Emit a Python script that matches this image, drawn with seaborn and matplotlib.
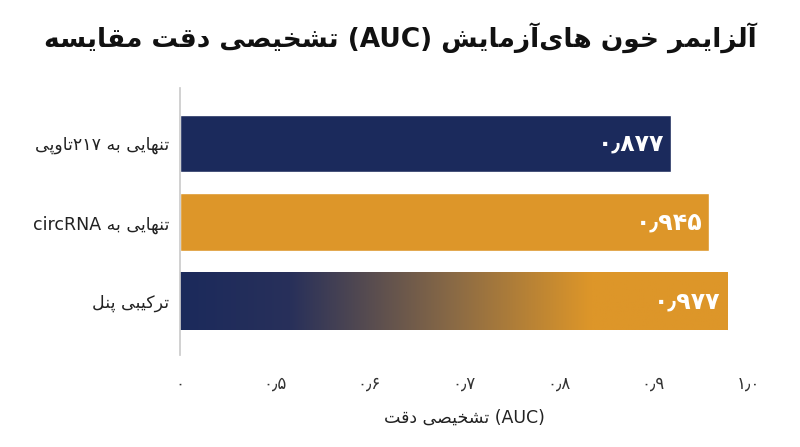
import numpy as np
import pandas as pd
import matplotlib
matplotlib.use("Agg")
import matplotlib.pyplot as plt
import seaborn as sns
from matplotlib.colors import LinearSegmentedColormap

categories = ["پی‌تاو۲۱۷ به تنهایی", "circRNA به تنهایی", "پنل ترکیبی"]
values = [0.877, 0.945, 0.977]
value_labels = ["۰٫۸۷۷", "۰٫۹۴۵", "۰٫۹۷۷"]
tick_labels = ["۰", "۰٫۵", "۰٫۶", "۰٫۷", "۰٫۸", "۰٫۹", "۱٫۰"]
title = "مقایسه دقت تشخیصی (AUC) آزمایش‌های خون آلزایمر"
xlabel = "دقت تشخیصی (AUC)"

NAVY = "#1b2a5c"
GOLD = "#dd9629"

# --- minimal Persian shaping (visual order) ---
F = {
 'ا': (0xFE8D, 0xFE8E, None, None), 'آ': (0xFE81, 0xFE82, None, None),
 'ب': (0xFE8F, 0xFE90, 0xFE91, 0xFE92), 'پ': (0xFB56, 0xFB57, 0xFB58, 0xFB59),
 'ت': (0xFE95, 0xFE96, 0xFE97, 0xFE98), 'خ': (0xFEA5, 0xFEA6, 0xFEA7, 0xFEA8),
 'د': (0xFEA9, 0xFEAA, None, None), 'ر': (0xFEAD, 0xFEAE, None, None),
 'ز': (0xFEAF, 0xFEB0, None, None), 'س': (0xFEB1, 0xFEB2, 0xFEB3, 0xFEB4),
 'ش': (0xFEB5, 0xFEB6, 0xFEB7, 0xFEB8), 'ص': (0xFEB9, 0xFEBA, 0xFEBB, 0xFEBC),
 'ق': (0xFED5, 0xFED6, 0xFED7, 0xFED8), 'ک': (0xFB8E, 0xFB8F, 0xFB90, 0xFB91),
 'ل': (0xFEDD, 0xFEDE, 0xFEDF, 0xFEE0), 'م': (0xFEE1, 0xFEE2, 0xFEE3, 0xFEE4),
 'ن': (0xFEE5, 0xFEE6, 0xFEE7, 0xFEE8), 'ه': (0xFEE9, 0xFEEA, 0xFEEB, 0xFEEC),
 'و': (0xFEED, 0xFEEE, None, None), 'ی': (0xFBFC, 0xFBFD, 0xFBFE, 0xFBFF),
}

def shape_run(run):
    out = []
    for i, c in enumerate(run):
        iso, fin, ini, med = F[c]
        prev_joins = i > 0 and F[run[i-1]][2] is not None
        next_joins = ini is not None and i < len(run) - 1
        if prev_joins and next_joins:
            g = med
        elif prev_joins:
            g = fin
        elif next_joins:
            g = ini
        else:
            g = iso
        out.append(chr(g))
    return "".join(reversed(out))

def vis(s):
    words = []
    for w in s.split(" "):
        pieces = []
        for p in w.split("\u200c"):
            runs, cur, cur_ar = [], "", None
            for c in p:
                ar = c in F
                if cur and ar != cur_ar:
                    runs.append((cur, cur_ar)); cur = ""
                cur += c; cur_ar = ar
            if cur:
                runs.append((cur, cur_ar))
            pieces.append("".join(shape_run(r) if a else r for r, a in runs))
        words.append("".join(pieces))
    return " ".join(words)

sns.set_theme(style="white")
plt.rcParams['font.family'] = ['DejaVu Sans', 'Noto Sans']

df = pd.DataFrame({"cat": [vis(c) for c in categories], "val": values})
fig = plt.figure(figsize=(8, 4.47), dpi=100)
ax = fig.add_axes([0.225, 0.206, 0.71, 0.597])
sns.barplot(data=df, y="cat", x="val", orient="h", ax=ax,
            palette=[NAVY, GOLD, NAVY], hue="cat", legend=False,
            width=0.73, saturation=1)

# gradient on combined panel
p = ax.patches[2]
x0, y0 = p.get_x(), p.get_y()
w, h = p.get_width(), p.get_height()
cmap = LinearSegmentedColormap.from_list("g", [(0, NAVY), (0.2, "#28305a"), (0.5, "#8a6a45"), (0.75, GOLD), (1, GOLD)])
grad = np.linspace(0, 1, 256).reshape(1, -1)
im = ax.imshow(grad, extent=[x0, x0 + w, y0 + h, y0], aspect="auto", cmap=cmap, zorder=p.get_zorder() + 0.1)
im.set_clip_path(p)

ax.set_xlim(0, 1.014)
ax.set_ylim(2.68, -0.7)
ax.set_xticks(np.linspace(0, 1.014, 7))
ax.set_xticklabels(tick_labels, fontsize=12, color="#333333")
ax.tick_params(axis="x", length=4, color="#cccccc", pad=10)
ax.tick_params(axis="y", length=0, pad=8, labelsize=12.5)
for lbl in ax.get_yticklabels():
    lbl.set_color("#222222")
ax.set_ylabel("")
ax.set_xlabel(vis(xlabel), fontsize=12.5, labelpad=12, color="#222222")
for s in ["top", "right", "bottom"]:
    ax.spines[s].set_visible(False)
ax.spines["left"].set_color("#cccccc")

for i, (v, t) in enumerate(zip(values, value_labels)):
    ax.text(v - 0.012, i, t, ha="right", va="center", color="white",
            fontsize=17, fontweight="bold", zorder=5)

fig.text(0.5, 0.915, vis(title), ha="center", va="center", fontsize=19,
         fontweight="bold", color="#111111")
fig.savefig("out.png", dpi=100)
